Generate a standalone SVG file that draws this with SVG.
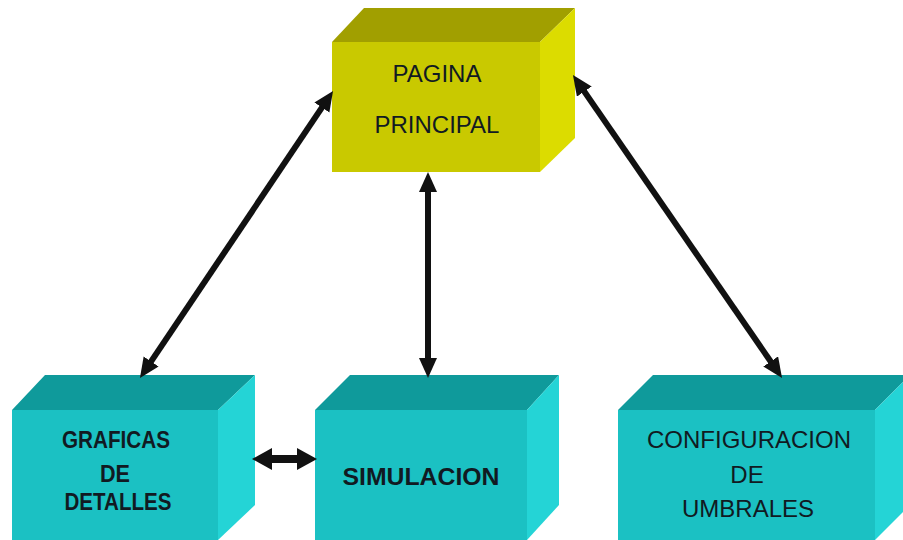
<svg xmlns="http://www.w3.org/2000/svg" width="903" height="540" viewBox="0 0 903 540">
  <style>
    .yfront { fill: #c9c900; }
    .ytop { fill: #a19f00; }
    .yright { fill: #dcdc00; }
    .cfront { fill: #1bc1c3; }
    .ctop { fill: #0f9a9b; }
    .cright { fill: #24d4d6; }
    .lbl { font-family: "Liberation Sans", Arial, sans-serif; font-size: 24px; fill: #111a22; text-anchor: middle; }
    .bold { font-weight: bold; }
    .conn { stroke: #111; fill: none; }
  </style>
  <defs>
    <marker id="head" markerUnits="userSpaceOnUse" markerWidth="22" markerHeight="20" refX="9" refY="9" orient="auto-start-reverse" viewBox="0 0 22 20">
      <path d="M0,0 L20,9 L0,18 z" fill="#111"/>
    </marker>
    <marker id="headL" markerUnits="userSpaceOnUse" markerWidth="22" markerHeight="24" refX="10" refY="11" orient="auto-start-reverse" viewBox="0 0 22 24">
      <path d="M0,0 L20,11 L0,22 z" fill="#111"/>
    </marker>
  </defs>
  <rect width="903" height="540" fill="#ffffff"/>

  <g id="pagina-principal">
    <polygon class="ytop" points="332,42 364,8 575,8 540,42"/>
    <polygon class="yright" points="540,42 575,8 575,138 540,172"/>
    <rect class="yfront" x="332" y="42" width="208" height="130"/>
    <text class="lbl" x="437" y="82">PAGINA</text>
    <text class="lbl" x="437" y="133">PRINCIPAL</text>
  </g>

  <g id="graficas-de-detalles">
    <polygon class="ctop" points="12,410 45,375 255,375 218,410"/>
    <polygon class="cright" points="218,410 255,375 255,505 218,540"/>
    <rect class="cfront" x="12" y="410" width="206" height="130"/>
    <text class="lbl bold" x="116" y="448" font-size="23" textLength="108" lengthAdjust="spacingAndGlyphs">GRAFICAS</text>
    <text class="lbl bold" x="115" y="482" font-size="23" textLength="30" lengthAdjust="spacingAndGlyphs">DE</text>
    <text class="lbl bold" x="118" y="510" font-size="23" textLength="107" lengthAdjust="spacingAndGlyphs">DETALLES</text>
  </g>

  <g id="simulacion">
    <polygon class="ctop" points="315,410 350,375 559,375 527,410"/>
    <polygon class="cright" points="527,410 559,375 559,505 527,540"/>
    <rect class="cfront" x="315" y="410" width="212" height="130"/>
    <text class="lbl bold" x="421" y="485" font-size="25" textLength="157" lengthAdjust="spacingAndGlyphs">SIMULACION</text>
  </g>

  <g id="configuracion-de-umbrales">
    <polygon class="ctop" points="618,410 653,375 910,375 875,410"/>
    <polygon class="cright" points="875,410 910,375 910,505 875,540"/>
    <rect class="cfront" x="618" y="410" width="257" height="130"/>
    <text class="lbl" x="749" y="448">CONFIGURACION</text>
    <text class="lbl" x="747" y="483">DE</text>
    <text class="lbl" x="748" y="517">UMBRALES</text>
  </g>

  <g id="connectors">
    <line class="conn" x1="326.9" y1="100.1" x2="146.1" y2="368.9" stroke-width="6" marker-start="url(#head)" marker-end="url(#head)"/>
    <line class="conn" x1="428" y1="183" x2="428" y2="367" stroke-width="6" marker-start="url(#head)" marker-end="url(#head)"/>
    <line class="conn" x1="579.2" y1="84.1" x2="775.8" y2="368.9" stroke-width="6" marker-start="url(#head)" marker-end="url(#head)"/>
    <line class="conn" x1="262" y1="459" x2="307" y2="459" stroke-width="8" marker-start="url(#headL)" marker-end="url(#headL)"/>
  </g>
</svg>
